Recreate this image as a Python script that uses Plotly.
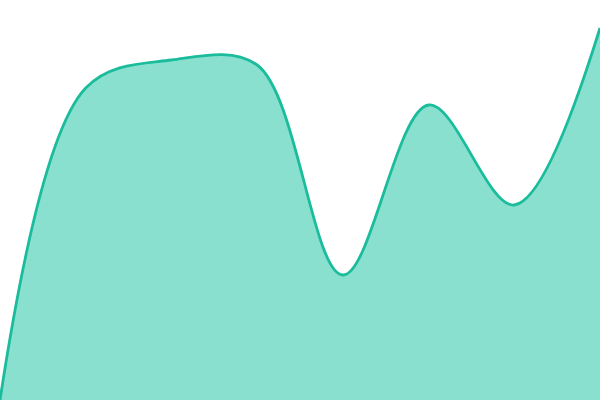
import plotly.graph_objects as go

# series values
steps = [0, 1, 2, 3, 4, 5, 6, 7]
values = [0, 312, 340, 335, 125, 295, 195, 372]

fig = go.Figure()
fig.add_trace(
    go.Scatter(
        x=steps,
        y=values,
        mode="lines",
        line=dict(color="#1abc9c", width=2.8, shape="spline", smoothing=1),
        fill="tozeroy",
        fillcolor="#8ae0cf",
        hoverinfo="skip",
    )
)
fig.update_layout(
    width=600,
    height=400,
    margin=dict(l=0, r=0, t=0, b=0),
    paper_bgcolor="white",
    plot_bgcolor="white",
    showlegend=False,
    xaxis=dict(visible=False, range=[0, 7]),
    yaxis=dict(visible=False, range=[0, 400]),
)
# drop the page's default body margin so the chart sits flush in the window
fig.write_html(
    "out.html",
    config={"displayModeBar": False},
    post_script="document.body.style.margin='0';document.body.style.overflow='hidden';",
)
